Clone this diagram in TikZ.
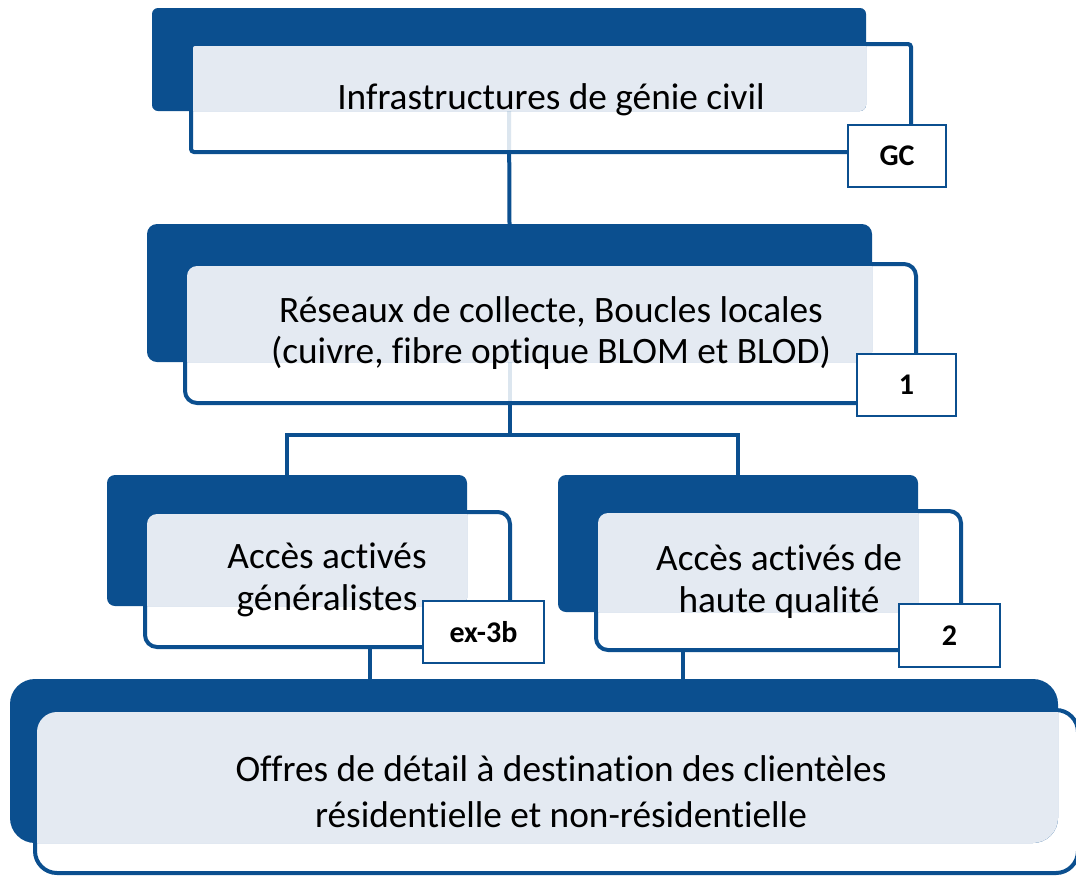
\documentclass[tikz,border=0pt]{standalone}
\usepackage{fontspec}
\setmainfont[Ligatures=NoCommon]{Carlito}
\definecolor{dblue}{RGB}{11,79,143}
\definecolor{lblue}{RGB}{228,234,242}
\pgfdeclarelayer{bg}
\pgfsetlayers{bg,main}
\begin{document}
\begin{tikzpicture}[x=1pt,y=-1pt,
  outerbox/.style={draw=dblue, line width=4pt, fill=white, fill opacity=0.86, draw opacity=1, inner sep=0pt, outer sep=0pt},
  darkbox/.style={fill=dblue, inner sep=0pt, outer sep=0pt},
  tag/.style={draw=dblue, line width=2pt, fill=white, inner sep=0pt, outer sep=0pt, text=black, font=\bfseries\fontsize{30}{34}\selectfont},
  conn/.style={draw=dblue, line width=4pt},
  txt/.style={align=center, text=black, inner sep=0pt}
]
\useasboundingbox (0,0) rectangle (1076,876);

\coordinate (j3) at (370,0);
\coordinate (j4) at (683,0);

% box 1
\node[outerbox, minimum width=720, minimum height=108, rounded corners=3] (w1) at (551,98) {};
\node[darkbox, minimum width=714, minimum height=103, rounded corners=6] (d1) at (509,59.5) {};
\begin{scope}
  \clip[rounded corners=6] (d1.north west) rectangle (d1.south east);
  \fill[lblue, rounded corners=2] ([shift={(2,2)}]w1.north west) rectangle ([shift={(-2,-2)}]w1.south east);
\end{scope}
\node[txt, font=\fontsize{37.3}{42}\selectfont] (t1) at (551,100) {Infrastructures de génie civil};
\node[tag, minimum width=98, minimum height=62] (g1) at (897,156) {GC};

% box 2
\node[outerbox, minimum width=731, minimum height=139, rounded corners=12] (w2) at (550.5,333.5) {};
\node[darkbox, minimum width=725, minimum height=138, rounded corners=10] (d2) at (509.5,293) {};
\begin{scope}
  \clip[rounded corners=10] (d2.north west) rectangle (d2.south east);
  \fill[lblue, rounded corners=10] ([shift={(2,2)}]w2.north west) rectangle ([shift={(-2,-2)}]w2.south east);
\end{scope}
\node[txt, font=\fontsize{37.3}{41}\selectfont] (t2) at (551,333) {Réseaux de collecte, Boucles locales\\(cuivre, fibre optique BLOM et BLOD)};
\node[tag, minimum width=99, minimum height=62] (g2) at (906.5,385) {1};

% box 3
\node[outerbox, minimum width=365, minimum height=135, rounded corners=12] (w3) at (327.5,579.5) {};
\node[darkbox, minimum width=360, minimum height=131, rounded corners=8] (d3) at (287,540.5) {};
\begin{scope}
  \clip[rounded corners=8] (d3.north west) rectangle (d3.south east);
  \fill[lblue, rounded corners=10] ([shift={(2,2)}]w3.north west) rectangle ([shift={(-2,-2)}]w3.south east);
\end{scope}
\node[txt, font=\fontsize{37.3}{42}\selectfont] (t3) at (327,580) {Accès activés\\généralistes};
\node[tag, minimum width=121, minimum height=62] (g3) at (483.5,632) {ex-3b};

% box 4
\node[outerbox, minimum width=365, minimum height=139, rounded corners=12] (w4) at (778.5,580.5) {};
\node[darkbox, minimum width=360, minimum height=137, rounded corners=8] (d4) at (738,543.5) {};
\begin{scope}
  \clip[rounded corners=8] (d4.north west) rectangle (d4.south east);
  \fill[lblue, rounded corners=10] ([shift={(2,2)}]w4.north west) rectangle ([shift={(-2,-2)}]w4.south east);
\end{scope}
\node[txt, font=\fontsize{37.3}{42}\selectfont] (t4) at (779,582) {Accès activés de\\haute qualité};
\node[tag, minimum width=101, minimum height=63] (g4) at (949.5,635.5) {2};

% bottom box
\node[outerbox, minimum width=1043, minimum height=163, rounded corners=22] (w5) at (556.5,791.5) {};
\node[darkbox, minimum width=1048, minimum height=164, rounded corners=25] (d5) at (534,761) {};
\begin{scope}
  \clip[rounded corners=25] (d5.north west) rectangle (d5.south east);
  \fill[lblue, rounded corners=20] ([shift={(2,2)}]w5.north west) rectangle ([shift={(-2,-2)}]w5.south east);
\end{scope}
\node[txt, font=\fontsize{37.3}{46}\selectfont] (t5) at (561,792) {Offres de détail à destination des clientèles\\résidentielle et non-résidentielle};

% ---------- connectors (behind the boxes) ----------
\begin{pgfonlayer}{bg}
\draw[conn] ([yshift=7]d1.south) -- (d2.north);
\draw[conn] ([yshift=7]d2.south) -- (d2.south |- w2.south) -- ++(0,32) coordinate (split) -| (d3.north);
\draw[conn] (split) -| (d4.north);
\draw[conn] (w3.south -| j3) -- (d5.north -| j3);
\draw[conn] (w4.south -| j4) -- (d5.north -| j4);
\end{pgfonlayer}
\end{tikzpicture}
\end{document}
